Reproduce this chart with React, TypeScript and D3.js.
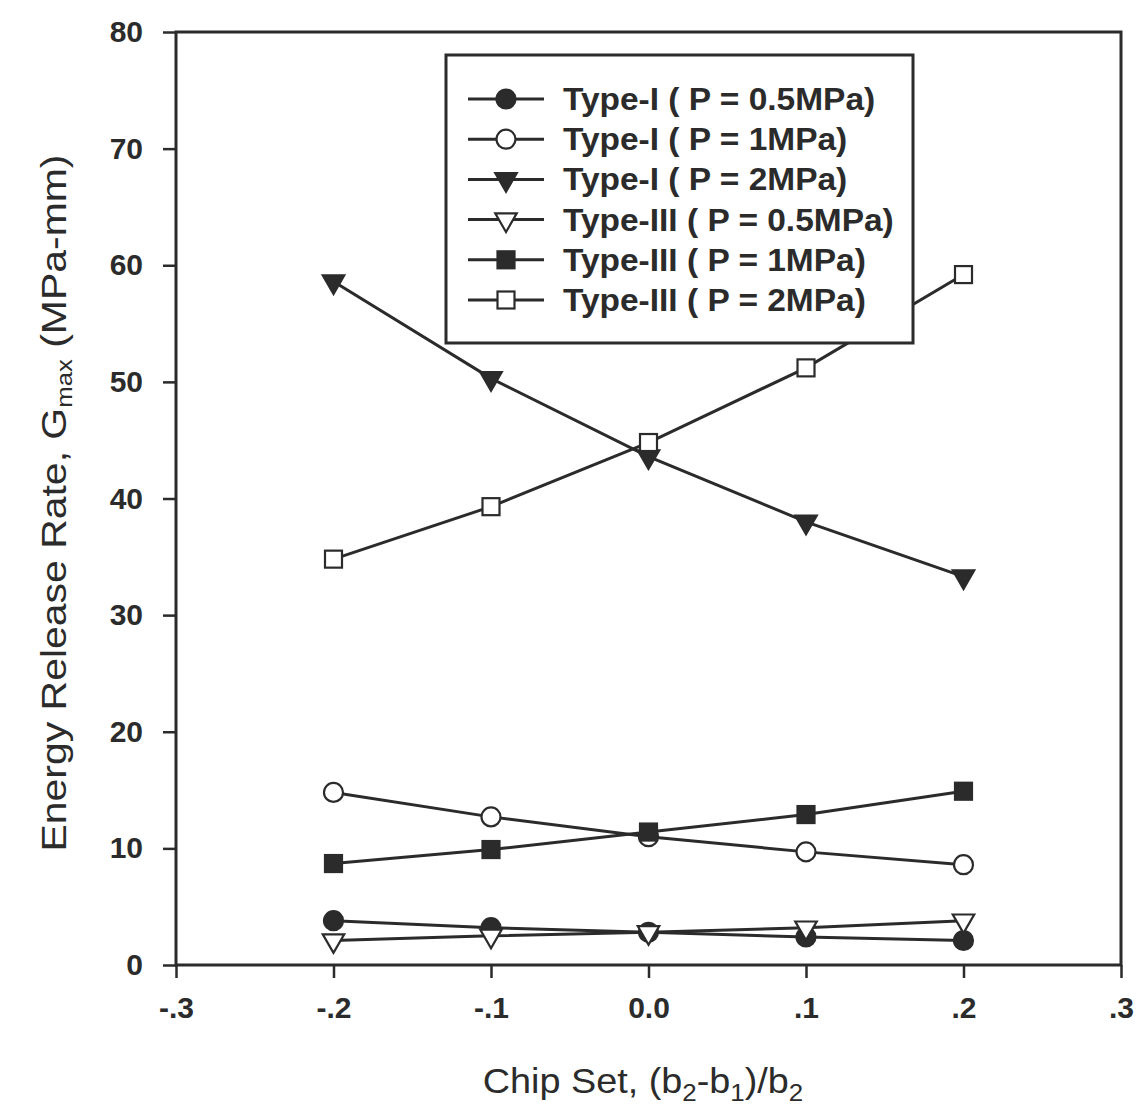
import React, { useEffect, useRef } from "react";
import * as d3 from "d3";

// chip set positions
const chipSet = [-0.2, -0.1, 0.0, 0.1, 0.2];

// G_max values (MPa-mm)
const typeI05 = [3.8, 3.2, 2.8, 2.4, 2.1];
const typeI1 = [14.8, 12.7, 11.0, 9.7, 8.6];
const typeI2 = [58.6, 50.3, 43.6, 38.0, 33.3];
const typeIII05 = [2.1, 2.5, 2.8, 3.2, 3.8];
const typeIII1 = [8.7, 9.9, 11.4, 12.9, 14.9];
const typeIII2 = [34.8, 39.3, 44.8, 51.2, 59.2];

const seriesNames = [
  "Type-I ( P = 0.5MPa)",
  "Type-I ( P = 1MPa)",
  "Type-I ( P = 2MPa)",
  "Type-III ( P = 0.5MPa)",
  "Type-III ( P = 1MPa)",
  "Type-III ( P = 2MPa)",
];
const seriesValues = [typeI05, typeI1, typeI2, typeIII05, typeIII1, typeIII2];
const seriesMarkers = ["circle", "circle", "triangle", "triangle", "square", "square"];
const seriesFilled = [true, false, true, false, true, false];

const xTicks = [-0.3, -0.2, -0.1, 0.0, 0.1, 0.2, 0.3];
const xTickLabels = ["-.3", "-.2", "-.1", "0.0", ".1", ".2", ".3"];
const yTicks = [0, 10, 20, 30, 40, 50, 60, 70, 80];

const ink = "#2b2b2b";

const App = () => {
  const svgRef = useRef<SVGSVGElement>(null);

  useEffect(() => {
    const w = 1137;
    const h = 1109;
    const m = { left: 176, right: 1121, top: 32, bottom: 965 };
    const svg = d3.select(svgRef.current).attr("width", w).attr("height", h);
    svg.selectAll("*").remove();

    const x = d3.scaleLinear().domain([-0.3, 0.3]).range([m.left, m.right]);
    const y = d3.scaleLinear().domain([0, 80]).range([m.bottom, m.top]);

    const font = "'Liberation Sans', Arial, sans-serif";

    // frame
    svg
      .append("rect")
      .attr("x", m.left)
      .attr("y", m.top)
      .attr("width", m.right - m.left)
      .attr("height", m.bottom - m.top)
      .attr("fill", "none")
      .attr("stroke", ink)
      .attr("stroke-width", 3);

    // axes
    const xAxis = d3
      .axisBottom(x)
      .tickValues(xTicks)
      .tickSize(13)
      .tickPadding(14)
      .tickFormat((d, i) => xTickLabels[i]);
    const gx = svg.append("g").attr("transform", `translate(0, ${m.bottom})`).call(xAxis);

    const yAxis = d3.axisLeft(y).tickValues(yTicks).tickSize(13).tickPadding(20);
    const gy = svg.append("g").attr("transform", `translate(${m.left}, 0)`).call(yAxis);

    [gx, gy].forEach((g) => {
      g.select(".domain").remove();
      g.selectAll("line").attr("stroke", ink).attr("stroke-width", 2.5);
      g.selectAll("text")
        .attr("fill", ink)
        .style("font-family", font)
        .style("font-size", "30px")
        .style("font-weight", "bold");
    });
    gx.selectAll("text").attr("dy", "0.85em");

    // axis titles
    const xt = svg
      .append("text")
      .attr("transform", "translate(643, 1093) scale(1.08, 1)")
      .attr("text-anchor", "middle")
      .attr("fill", ink)
      .style("font-family", font)
      .style("font-size", "35px");
    xt.append("tspan").text("Chip Set, (b");
    xt.append("tspan").attr("baseline-shift", "-30%").style("font-size", "24px").text("2");
    xt.append("tspan").text("-b");
    xt.append("tspan").attr("baseline-shift", "-30%").style("font-size", "24px").text("1");
    xt.append("tspan").text(")/b");
    xt.append("tspan").attr("baseline-shift", "-30%").style("font-size", "24px").text("2");

    const yt = svg
      .append("text")
      .attr("transform", "translate(66, 503) rotate(-90) scale(1.17, 1)")
      .attr("text-anchor", "middle")
      .attr("fill", ink)
      .style("font-family", font)
      .style("font-size", "35px");
    yt.append("tspan").text("Energy Release Rate, G");
    yt.append("tspan").attr("baseline-shift", "-30%").style("font-size", "22px").text("max");
    yt.append("tspan").text(" (MPa-mm)");

    const drawMarker = (g, kind, filled, cx, cy) => {
      const fill = filled ? ink : "white";
      if (kind === "circle") {
        g.append("circle")
          .attr("cx", cx)
          .attr("cy", cy)
          .attr("r", 9.5)
          .attr("fill", fill)
          .attr("stroke", ink)
          .attr("stroke-width", 2.2);
      } else if (kind === "square") {
        g.append("rect")
          .attr("x", cx - 8.5)
          .attr("y", cy - 8.5)
          .attr("width", 17)
          .attr("height", 17)
          .attr("fill", fill)
          .attr("stroke", ink)
          .attr("stroke-width", 2.2);
      } else {
        const sym = d3.symbol().type(d3.symbolTriangle).size(200);
        g.append("path")
          .attr("d", sym())
          .attr("transform", `translate(${cx}, ${cy}) rotate(180)`)
          .attr("fill", fill)
          .attr("stroke", ink)
          .attr("stroke-width", 2.2);
      }
    };

    const line = d3
      .line<number>()
      .x((d, i) => x(chipSet[i]))
      .y((d) => y(d));

    const plot = svg.append("g");
    seriesValues.forEach((vals) => {
      plot
        .append("path")
        .attr("d", line(vals))
        .attr("fill", "none")
        .attr("stroke", ink)
        .attr("stroke-width", 3);
    });
    seriesValues.forEach((vals, s) => {
      vals.forEach((v, i) => {
        drawMarker(plot, seriesMarkers[s], seriesFilled[s], x(chipSet[i]), y(v));
      });
    });

    // legend (on top of the lines)
    const lg = svg.append("g");
    lg.append("rect")
      .attr("x", 446)
      .attr("y", 55)
      .attr("width", 467)
      .attr("height", 288)
      .attr("fill", "white")
      .attr("stroke", ink)
      .attr("stroke-width", 3);

    seriesNames.forEach((name, i) => {
      const cy = 99 + i * 40.2;
      lg.append("line")
        .attr("x1", 468)
        .attr("x2", 544)
        .attr("y1", cy)
        .attr("y2", cy)
        .attr("stroke", ink)
        .attr("stroke-width", 3);
      drawMarker(lg, seriesMarkers[i], seriesFilled[i], 506, cy);
      lg.append("text")
        .attr("transform", `translate(563, ${cy + 11}) scale(1.08, 1)`)
        .attr("fill", ink)
        .style("font-family", font)
        .style("font-size", "31px")
        .style("font-weight", "bold")
        .text(name);
    });
  }, []);

  return (
    <div style={{ background: "white" }}>
      <svg ref={svgRef} style={{ display: "block", position: "absolute", left: 0, top: 0 }}></svg>
    </div>
  );
};

export default App;
